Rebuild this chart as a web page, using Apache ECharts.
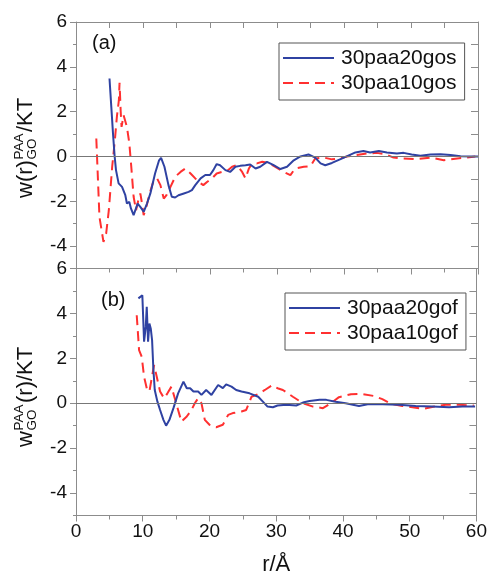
<!DOCTYPE html>
<html>
<head>
<meta charset="utf-8">
<script src="https://cdn.jsdelivr.net/npm/echarts@6/dist/echarts.min.js"></script>
<style>
html,body{margin:0;padding:0;background:#fff;}
#chart{width:490px;height:579px;}
</style>
</head>
<body>
<div id="chart"></div>
<script>
// ---- data ----
const seriesNames = ['30paa20gos', '30paa10gos', '30paa20gof', '30paa10gof'];
const xTicks = [0, 10, 20, 30, 40, 50, 60];
const yLabelValues = [-4, -2, 0, 2, 4, 6];

// panel (a) blue: 30paa20gos
const rA20 = [5.0,5.27,5.52,5.77,5.97,6.36,6.87,7.36,7.6,7.96,8.2,8.6,8.85,9.2,9.6,10.1,10.6,11.1,11.8,12.4,12.7,13.2,13.8,14.3,14.8,15.3,16.1,16.8,17.3,17.8,18.6,19.3,20.0,20.5,21.0,21.5,22.3,23.0,23.8,24.5,25.3,26.0,26.8,27.5,28.5,29.5,30.5,31.5,32.5,33.5,34.7,35.7,36.5,37.2,38.2,39.4,40.4,41.7,42.9,43.9,45.2,46.4,47.9,48.9,50.1,51.4,52.9,54.4,55.9,57.4,59.3,60];
const wA20 = [3.48,2.21,1.03,0,-0.61,-1.2,-1.36,-1.73,-2.1,-2.03,-2.32,-2.62,-2.55,-2.1,-2.25,-2.47,-2.1,-1.65,-0.76,-0.17,-0.06,-0.46,-1.28,-1.8,-1.83,-1.73,-1.65,-1.58,-1.5,-1.28,-0.98,-0.83,-0.83,-0.61,-0.34,-0.39,-0.61,-0.69,-0.46,-0.42,-0.39,-0.36,-0.54,-0.46,-0.24,-0.39,-0.56,-0.46,-0.17,0,0.09,-0.05,-0.31,-0.39,-0.29,-0.13,0,0.18,0.24,0.18,0.24,0.18,0.13,0.16,0.09,0.03,0.09,0.1,0.06,0.01,0,0];

// panel (a) red: 30paa10gos
const rA10 = [3.03,3.2,3.5,3.9,4.1,4.5,4.9,5.4,5.8,6.1,6.4,6.5,6.66,6.8,7.1,7.36,7.6,7.96,8.25,8.6,8.96,9.3,9.6,9.85,10.1,10.5,11.0,11.6,12.1,12.6,13.1,13.5,14.1,14.8,15.6,16.3,17.1,17.8,18.6,19.0,19.6,20.3,21.0,21.8,22.5,23.3,24.0,24.8,25.3,25.8,26.3,27.0,27.8,28.5,29.5,31.0,32.0,32.7,34.0,35.0,35.7,37.0,38.2,39.4,40.4,41.9,43.4,44.9,46.2,47.4,48.9,50.9,52.9,54.9,56.9,58.4,59.6];
const wA10 = [0.8,-0.46,-2.7,-3.44,-3.81,-3.44,-2.4,-0.46,0.73,1.77,2.51,3.29,2.07,1.32,1.84,1.84,1.32,0.58,-0.46,-1.8,-2.4,-1.95,-1.65,-2.1,-2.62,-2.25,-1.65,-1.06,-0.98,-1.28,-1.88,-1.73,-1.36,-0.91,-0.69,-0.54,-0.76,-0.98,-1.2,-1.28,-1.13,-0.98,-0.76,-0.69,-0.66,-0.46,-0.39,-0.69,-0.98,-0.54,-0.31,-0.31,-0.24,-0.27,-0.42,-0.69,-0.83,-0.54,-0.46,-0.43,-0.09,-0.05,-0.13,-0.09,0,0.06,0.13,0.16,0.1,-0.05,-0.09,-0.12,-0.05,-0.17,-0.09,-0.05,0];

// panel (b) blue: 30paa20gof
const rB20 = [9.35,9.94,10.2,10.45,10.6,10.8,11.0,11.2,11.4,11.6,11.8,12.2,12.6,13.1,13.5,14.0,14.6,15.3,16.1,16.6,17.1,17.6,18.3,18.8,19.5,20.3,21.3,22.0,22.5,23.3,24.0,24.8,26.0,27.3,28.0,28.7,29.5,30.2,31.5,33.0,34.0,35.0,36.5,37.5,38.9,40.4,42.4,43.9,45.9,48.4,50.9,53.4,55.9,57.9,59.8];
const wB20 = [4.67,4.81,2.74,3.4,4.29,2.74,3.55,3.33,2.81,1.48,0.59,0.07,-0.3,-0.74,-1.0,-0.74,-0.22,0.44,0.96,0.67,0.67,0.52,0.52,0.37,0.59,0.37,0.81,0.67,0.84,0.74,0.59,0.52,0.44,0.29,0.07,-0.15,-0.18,-0.1,-0.07,-0.1,0.03,0.1,0.15,0.15,0.07,0,-0.12,-0.03,-0.05,-0.07,-0.12,-0.15,-0.18,-0.15,-0.15];

// panel (b) red: 30paa10gof
const rB10 = [9.1,9.45,9.85,10.2,10.6,11.0,11.3,11.7,12.1,12.6,13.2,13.7,14.3,14.8,15.3,15.8,16.6,17.3,17.8,18.3,18.8,19.3,20.0,21.0,22.0,22.8,23.5,24.8,25.5,26.3,27.3,28.3,29.4,30.2,31.0,32.5,34.0,35.5,37.0,38.2,39.4,41.2,42.9,44.7,45.9,47.2,48.9,50.9,52.1,53.7,55.4,57.4,59.6];
const wB10 = [3.92,2.37,2.07,1.18,0.67,0.52,1.04,1.7,1.18,0.52,0.22,0.44,0.74,0.22,-0.3,-0.82,-0.59,-0.3,0,0.22,0,-0.74,-0.96,-1.07,-0.96,-0.52,-0.44,-0.37,-0.3,0.29,0.41,0.59,0.8,0.67,0.59,0.29,0,-0.15,-0.22,0,0.27,0.4,0.41,0.32,0.18,-0.03,-0.12,-0.2,-0.25,-0.15,-0.07,-0.07,-0.1];

// ---- styling / layout ----
const FONT = '"Liberation Sans", Arial, sans-serif';
const BLUE = '#2f42a2';
const RED = '#ff3030';
const AXIS = '#8c8c8c';
const zip = (a, b) => a.map((v, i) => [v, b[i]]);

const chart = echarts.init(document.getElementById('chart'), null, {renderer: 'canvas'});

function xBottom(grid, showLabels) {
  return {
    type: 'value', gridIndex: grid, position: 'bottom', min: 0, max: 60, interval: 10,
    axisLine: {show: true, onZero: false, lineStyle: {color: AXIS, width: 1}},
    axisTick: {show: true, inside: false, length: 6, lineStyle: {color: AXIS}},
    minorTick: {show: true, splitNumber: 2, length: 4, lineStyle: {color: AXIS}},
    axisLabel: {show: showLabels, margin: 7, color: '#111', fontSize: 19, fontFamily: FONT,
      customValues: xTicks},
    splitLine: {show: false}, minorSplitLine: {show: false},
    name: showLabels ? 'r/Å' : '', nameLocation: 'middle', nameGap: 38,
    nameTextStyle: {fontSize: 22, color: '#111', fontFamily: FONT}
  };
}
function xTop(grid) {
  return {
    type: 'value', gridIndex: grid, position: 'top', min: 0, max: 60, interval: 5,
    axisLine: {show: true, onZero: false, lineStyle: {color: AXIS, width: 1}},
    axisTick: {show: grid === 0, inside: true, length: 6, lineStyle: {color: AXIS}},
    axisLabel: {show: false}, splitLine: {show: false}
  };
}
function yMain(grid) {
  return {
    type: 'value', gridIndex: grid, position: 'left', min: -5, max: 6, interval: 1,
    axisLine: {show: true, onZero: false, lineStyle: {color: AXIS, width: 1}},
    axisTick: {show: true, inside: false, length: 6, customValues: yLabelValues, lineStyle: {color: AXIS}},
    axisLabel: {show: true, margin: 9, color: '#111', fontSize: 19, fontFamily: FONT,
      customValues: yLabelValues},
    splitLine: {show: false}
  };
}
function yMinor(grid) {
  return {
    type: 'value', gridIndex: grid, position: 'left', min: -5, max: 6, interval: 1,
    axisLine: {show: false},
    axisTick: {show: true, inside: false, length: 3, customValues: [-5, -3, -1, 1, 3, 5], lineStyle: {color: AXIS}},
    axisLabel: {show: false}, splitLine: {show: false}
  };
}
function yRight(grid) {
  return {
    type: 'value', gridIndex: grid, position: 'right', min: -5, max: 6, interval: 1,
    axisLine: {show: true, onZero: false, lineStyle: {color: AXIS, width: 1}},
    axisTick: {show: true, inside: true, length: 7, lineStyle: {color: AXIS}},
    axisLabel: {show: false}, splitLine: {show: false}
  };
}

const zeroLine = {
  silent: true, symbol: ['none', 'none'], label: {show: false},
  lineStyle: {color: '#777', width: 1, type: 'solid'},
  data: [{yAxis: 0}]
};

function lineSeries(name, xi, yi, data, color, dashed) {
  return {
    name: name, type: 'line', xAxisIndex: xi, yAxisIndex: yi,
    data: data, showSymbol: false, symbol: 'circle', smooth: false,
    animation: false, z: dashed ? 3 : 4,
    lineStyle: {color: color, width: 2, type: dashed ? [10, 6] : 'solid'},
    itemStyle: {color: color}
  };
}

function legend(names, left, top) {
  return {
    data: names, orient: 'vertical', left: left, top: top,
    itemWidth: 51, itemHeight: 14, itemGap: 3,
    padding: [4, 8, 6, 3],
    borderColor: '#555', borderWidth: 1, backgroundColor: '#fff',
    textStyle: {fontSize: 21, lineHeight: 22, color: '#111', fontFamily: FONT, padding: [0, 0, 0, 2]},
    itemStyle: {opacity: 0},
    selectedMode: false
  };
}

function titleGroup(x, y, parts) {
  return {type: 'group', x: x, y: y, rotation: Math.PI / 2, children: parts.map(p => ({
    type: 'text', x: p[1], y: p[2],
    style: {text: p[0], font: p[3] + 'px ' + FONT, fill: '#111', align: 'left', verticalAlign: 'middle'}
  }))};
}

const option = {
  backgroundColor: '#fff',
  animation: false,
  grid: [
    {left: 76, right: 12, top: 22, height: 246.5},
    {left: 76, right: 12, top: 268.5, height: 247}
  ],
  xAxis: [xBottom(0, false), xTop(0), xBottom(1, true), xTop(1)],
  yAxis: [yMain(0), yMinor(0), yRight(0), yMain(1), yMinor(1), yRight(1)],
  legend: [
    legend([seriesNames[0], seriesNames[1]], 279, 43),
    legend([seriesNames[2], seriesNames[3]], 285, 293)
  ],
  series: [
    Object.assign(lineSeries(seriesNames[1], 0, 0, zip(rA10, wA10), RED, true), {markLine: zeroLine}),
    lineSeries(seriesNames[0], 0, 0, zip(rA20, wA20), BLUE, false),
    Object.assign(lineSeries(seriesNames[3], 2, 3, zip(rB10, wB10), RED, true), {markLine: zeroLine}),
    lineSeries(seriesNames[2], 2, 3, zip(rB20, wB20), BLUE, false)
  ],
  graphic: [
    {type: 'text', left: 92, top: 33, style: {text: '(a)', font: '20px ' + FONT, fill: '#111'}},
    {type: 'text', left: 101, top: 290, style: {text: '(b)', font: '20px ' + FONT, fill: '#111'}},
    titleGroup(26, 198, [['w(r)', 0, 0, 22], ['PAA', 38.5, -7, 13.5], ['GO', 38.5, 6, 13.5], ['/KT', 66, 0, 22]]),
    titleGroup(26, 447, [['w', 0, 0, 22], ['PAA', 16.5, -7, 13.5], ['GO', 16.5, 6, 13.5], ['(r)/KT', 44, 0, 22]])
  ]
};
// legend order top-to-bottom: blue first
option.legend[0].data = [seriesNames[0], seriesNames[1]];
option.legend[1].data = [seriesNames[2], seriesNames[3]];
chart.setOption(option);
</script>
</body>
</html>
